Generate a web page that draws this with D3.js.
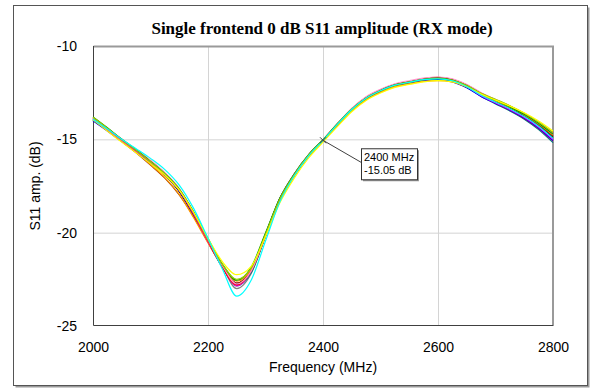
<!DOCTYPE html>
<html>
<head>
<meta charset="utf-8">
<script src="https://cdn.jsdelivr.net/npm/d3@7"></script>
<style>
  body { margin: 0; background: #fff; }
  text { font-family: "Liberation Sans", Arial, sans-serif; }
</style>
</head>
<body>
<div id="chart"></div>
<script>
// frequency points (MHz)
const freqs = [2000,2025,2050,2075,2100,2125,2150,2175,2200,2225,2250,2275,2300,2325,2350,2375,2400,
  2425,2450,2475,2500,2525,2550,2575,2600,2625,2650,2675,2700,2725,2750,2775,2800]

// S11 amplitude of each frontend (dB)
const s1 = [-13.85,-14.42,-15.00,-15.58,-16.15,-16.82,-17.68,-18.95,-20.45,-21.85,-22.80,-22.05,-20.15,-18.22,-16.90,-15.84,-15.03,-14.18,-13.36,-12.75,-12.34,-12.05,-11.90,-11.74,-11.68,-11.78,-12.08,-12.52,-12.88,-13.22,-13.62,-14.10,-14.65]
const s2 = [-14.00,-14.55,-15.12,-15.66,-16.25,-16.90,-17.75,-19.00,-20.45,-21.80,-22.75,-22.00,-20.12,-18.18,-16.88,-15.86,-15.07,-14.25,-13.46,-12.86,-12.46,-12.16,-12.00,-11.86,-11.82,-11.92,-12.24,-12.70,-13.06,-13.42,-13.84,-14.38,-15.05]
const s3 = [-13.80,-14.38,-15.00,-15.56,-16.18,-16.84,-17.66,-18.88,-20.32,-21.68,-22.55,-21.85,-20.02,-18.15,-16.86,-15.82,-15.02,-14.16,-13.38,-12.78,-12.38,-12.08,-11.93,-11.78,-11.72,-11.82,-12.12,-12.56,-12.90,-13.26,-13.66,-14.14,-14.72]
const s4 = [-13.95,-14.55,-15.15,-15.72,-16.30,-16.92,-17.72,-18.92,-20.30,-21.55,-22.25,-21.80,-20.20,-18.40,-17.08,-16.00,-15.15,-14.32,-13.52,-12.92,-12.52,-12.22,-12.06,-11.92,-11.86,-11.92,-12.18,-12.58,-12.90,-13.22,-13.58,-14.02,-14.55]
const s5 = [-13.92,-14.45,-15.00,-15.50,-16.02,-16.62,-17.45,-18.70,-20.30,-21.95,-23.40,-22.55,-20.45,-18.35,-16.95,-15.88,-15.06,-14.20,-13.40,-12.80,-12.40,-12.10,-11.95,-11.80,-11.76,-11.86,-12.18,-12.64,-13.00,-13.36,-13.78,-14.30,-14.95]
const s6 = [-13.88,-14.46,-15.06,-15.62,-16.22,-16.88,-17.74,-19.00,-20.48,-21.82,-22.85,-22.05,-20.10,-18.18,-16.88,-15.83,-15.03,-14.18,-13.38,-12.76,-12.36,-12.06,-11.90,-11.76,-11.70,-11.82,-12.16,-12.66,-13.04,-13.40,-13.82,-14.34,-15.00]
const s7 = [-13.98,-14.52,-15.10,-15.66,-16.26,-16.92,-17.80,-19.05,-20.50,-21.85,-22.80,-22.00,-20.08,-18.16,-16.86,-15.84,-15.05,-14.22,-13.44,-12.84,-12.44,-12.14,-11.98,-11.84,-11.80,-11.90,-12.20,-12.62,-12.98,-13.34,-13.76,-14.28,-14.90]
const s8 = [-13.86,-14.48,-15.10,-15.70,-16.35,-17.05,-17.95,-19.20,-20.55,-21.78,-22.60,-21.95,-20.15,-18.25,-16.95,-15.90,-15.08,-14.24,-13.46,-12.88,-12.48,-12.18,-12.03,-11.90,-11.85,-11.93,-12.20,-12.60,-12.94,-13.28,-13.68,-14.16,-14.75]
const s9 = [-13.94,-14.50,-15.08,-15.64,-16.24,-16.90,-17.76,-19.02,-20.46,-21.80,-22.70,-22.00,-20.12,-18.20,-16.90,-15.86,-15.06,-14.22,-13.42,-12.82,-12.42,-12.12,-11.96,-11.82,-11.78,-11.88,-12.20,-12.68,-13.06,-13.44,-13.88,-14.42,-15.10]
const s10 = [-13.90,-14.50,-15.12,-15.72,-16.38,-17.08,-17.98,-19.15,-20.50,-21.75,-22.70,-22.05,-20.20,-18.28,-16.96,-15.90,-15.08,-14.22,-13.42,-12.82,-12.42,-12.12,-11.96,-11.80,-11.74,-11.82,-12.12,-12.56,-12.92,-13.28,-13.70,-14.20,-14.82]
const s11 = [-13.82,-14.40,-15.02,-15.58,-16.20,-16.86,-17.70,-18.92,-20.36,-21.70,-22.50,-21.90,-20.08,-18.20,-16.90,-15.85,-15.05,-14.20,-13.40,-12.80,-12.40,-12.10,-11.94,-11.80,-11.74,-11.84,-12.12,-12.54,-12.86,-13.20,-13.60,-14.08,-14.62]
const s12 = [-13.96,-14.52,-15.08,-15.62,-16.20,-16.84,-17.68,-18.94,-20.42,-21.80,-22.85,-22.15,-20.20,-18.22,-16.90,-15.86,-15.06,-14.22,-13.42,-12.82,-12.42,-12.12,-11.98,-11.84,-11.80,-11.90,-12.22,-12.70,-13.10,-13.48,-13.92,-14.48,-15.18]
const s13 = [-13.84,-14.40,-14.98,-15.55,-16.12,-16.78,-17.62,-18.88,-20.38,-21.76,-22.75,-22.05,-20.14,-18.18,-16.86,-15.82,-15.02,-14.16,-13.34,-12.72,-12.32,-12.02,-11.86,-11.72,-11.66,-11.76,-12.06,-12.50,-12.86,-13.22,-13.62,-14.12,-14.70]
const s14 = [-13.92,-14.48,-15.06,-15.62,-16.22,-16.88,-17.72,-18.98,-20.44,-21.82,-23.00,-22.20,-20.18,-18.20,-16.90,-15.86,-15.06,-14.22,-13.42,-12.82,-12.40,-12.10,-11.96,-11.82,-11.78,-11.88,-12.18,-12.62,-12.98,-13.34,-13.74,-14.24,-14.88]

// axis ticks
const xTicks = [2000, 2200, 2400, 2600, 2800]
const yTicks = [-25, -20, -15, -10]

// marker annotation
const markerFreq = 2400
const markerVal = -15.05

const allSeries = [s14, s12, s9, s7, s2, s10, s8, s6, s1, s13, s3, s11, s4, s5]
const colors = ["#808080", "#008080", "#800080", "#000000", "#0000ff", "#993300", "#ff9900",
  "#ff00ff", "#ff0000", "#ff99cc", "#00a000", "#99cc00", "#ffff00", "#00ffff"]

const W = 593, H = 390
const margin = { top: 46, right: 40, bottom: 64, left: 93 }
const width = W - margin.left - margin.right
const height = H - margin.top - margin.bottom

const svg = d3.select("#chart").append("svg")
    .attr("width", W)
    .attr("height", H)

// outer frame with shadow
svg.append("rect")
    .attr("x", 15.5).attr("y", 7.5).attr("width", 574).attr("height", 380)
    .attr("fill", "#9a9a9a")
svg.append("rect")
    .attr("x", 13.5).attr("y", 5.5).attr("width", 574).attr("height", 380)
    .attr("fill", "#fff").attr("stroke", "#555").attr("stroke-width", 1)

const g = svg.append("g")
    .attr("transform", "translate(" + margin.left + "," + margin.top + ")")

const x = d3.scaleLinear().domain([2000, 2800]).range([0, width])
const y = d3.scaleLinear().domain([-25, -10]).range([height, 0])

// plain hyphen for negative numbers, like the original
const plain = d => String(d)

// gridlines
g.append("g")
    .attr("transform", `translate(0,${height})`)
    .call(d3.axisBottom(x).tickValues(xTicks.slice(1, -1)).tickSize(-height).tickFormat(""))
    .call(a => a.select(".domain").remove())
    .selectAll("line").attr("stroke", "#d4d4d4")
g.append("g")
    .call(d3.axisLeft(y).tickValues(yTicks.slice(1, -1)).tickSize(-width).tickFormat(""))
    .call(a => a.select(".domain").remove())
    .selectAll("line").attr("stroke", "#d4d4d4")

// plot border: grey top/right, dark left/bottom
g.append("path")
    .attr("d", `M0.5,0.5H${width}V${height}`)
    .attr("fill", "none").attr("stroke", "#9a9a9a").attr("stroke-width", 2)
g.append("path")
    .attr("d", `M0.5,0V${height - 0.5}H${width}`)
    .attr("fill", "none").attr("stroke", "#404040").attr("stroke-width", 1)

// axes labels
const xAxis = g.append("g")
    .attr("transform", `translate(0,${height})`)
    .call(d3.axisBottom(x).tickValues(xTicks).tickSize(0).tickPadding(16).tickFormat(plain))
xAxis.select(".domain").remove()
xAxis.selectAll("text").attr("font-size", 14).attr("fill", "#000")
    .attr("font-family", "Liberation Sans, Arial, sans-serif")

const yAxis = g.append("g")
    .call(d3.axisLeft(y).tickValues(yTicks).tickSize(0).tickPadding(16).tickFormat(plain))
yAxis.select(".domain").remove()
yAxis.selectAll("text").attr("font-size", 14).attr("fill", "#000")
    .attr("font-family", "Liberation Sans, Arial, sans-serif")

// the traces
const line = d3.line()
    .curve(d3.curveMonotoneX)
    .x((d, i) => x(freqs[i]))
    .y(d => y(d))

g.selectAll(".trace")
    .data(allSeries)
  .enter().append("path")
    .attr("class", "trace")
    .attr("fill", "none")
    .attr("stroke", (d, i) => colors[i])
    .attr("stroke-width", 1.2)
    .attr("d", line)

// marker + callout
const mx = x(markerFreq), my = y(markerVal)
const bx = mx + 38, by = my + 8
g.append("line")
    .attr("x1", mx).attr("y1", my).attr("x2", bx).attr("y2", by + 14)
    .attr("stroke", "#404040").attr("stroke-width", 1)
g.append("path")
    .attr("d", `M${mx - 3},${my - 3}L${mx + 3},${my + 3}M${mx - 3},${my + 3}L${mx + 3},${my - 3}`)
    .attr("stroke", "#404040").attr("stroke-width", 1)
g.append("rect")
    .attr("x", bx + 2).attr("y", by + 2).attr("width", 56).attr("height", 31)
    .attr("fill", "#9a9a9a")
g.append("rect")
    .attr("x", bx + 0.5).attr("y", by + 0.5).attr("width", 56).attr("height", 31)
    .attr("fill", "#fff").attr("stroke", "#333")
g.append("text")
    .attr("x", bx + 3).attr("y", by + 13)
    .attr("font-size", 11).text(markerFreq + " MHz")
g.append("text")
    .attr("x", bx + 3).attr("y", by + 26)
    .attr("font-size", 11).text(markerVal.toFixed(2) + " dB")

// titles
svg.append("text")
    .attr("x", 322).attr("y", 34)
    .attr("text-anchor", "middle")
    .attr("font-weight", "bold").attr("font-size", 17)
    .style("font-family", "Liberation Serif, Times New Roman, serif")
    .text("Single frontend 0 dB S11 amplitude (RX mode)")

svg.append("text")
    .attr("x", margin.left + width / 2).attr("y", 372)
    .attr("text-anchor", "middle").attr("font-size", 14)
    .text("Frequency (MHz)")

svg.append("text")
    .attr("transform", "translate(40," + (margin.top + height / 2) + ") rotate(-90)")
    .attr("text-anchor", "middle").attr("font-size", 14)
    .text("S11 amp. (dB)")
</script>
</body>
</html>
